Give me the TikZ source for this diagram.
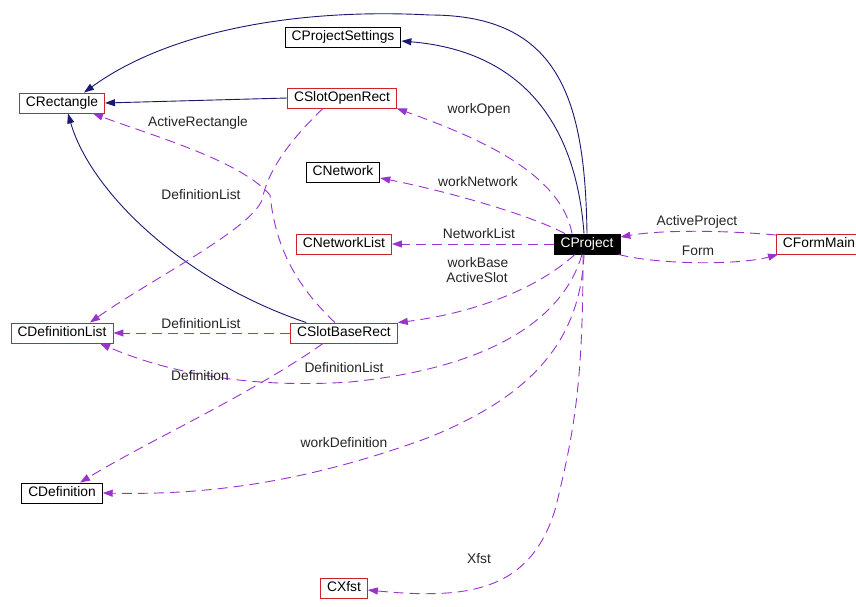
\documentclass[tikz,border=0pt]{standalone}
\usepackage{fontspec}
\setmainfont{Liberation Sans}
\usetikzlibrary{arrows.meta}
\definecolor{inhcol}{RGB}{25,25,112}
\definecolor{usecol}{RGB}{154,50,205}
\definecolor{boxred}{RGB}{205,35,45}
\begin{document}
\begin{tikzpicture}[x=1pt,y=-1pt,
  cls/.style={draw=black, line width=0.9pt, rectangle, minimum height=20pt,
    inner xsep=6.5pt, inner ysep=0pt, text height=10pt, text depth=3pt,
    font=\fontsize{13.8}{16}\selectfont},
  doc/.style={cls, draw=boxred},
  cur/.style={cls, fill=black, text=white},
  inherit/.style={draw=inhcol, line width=0.9pt, -{Triangle[length=10pt,width=7pt]}},
  uses/.style={draw=usecol, line width=0.9pt, dash pattern=on 10pt off 6pt,
    -{Triangle[length=10pt,width=7pt]}},
  lbl/.style={font=\fontsize{13.8}{16}\selectfont, text=black!85, inner sep=0pt}
]
% canvas
\fill[white] (0,0) rectangle (856,606);
\useasboundingbox (0,0) rectangle (856,606);

% classes
\node[cls] (cps)   at (343,37)  {CProjectSettings};
\node[doc] (crect) at (62,103)  {CRectangle};
\node[doc] (cso)   at (342,98)  {CSlotOpenRect};
\node[cls] (cnet)  at (343,172) {CNetwork};
\node[doc] (cnl)   at (344,244) {CNetworkList};
\node[cur] (cproj) at (587,244) {CProject};
\node[doc] (cfm)   at (819,244) {CFormMain};
\node[doc] (cdl)   at (62,333)  {CDefinitionList};
\node[doc] (csb)   at (344,333) {CSlotBaseRect};
\node[cls] (cdef)  at (62,493)  {CDefinition};
\node[doc] (cxf)   at (344,588) {CXfst};

% inheritance
\draw[inherit] (cproj.north) .. controls (585,100) and (560,15) .. (430,15)
  .. controls (300,8) and (170,30) .. ([xshift=22pt]crect.north);
\draw[inherit] ([xshift=-3pt]cproj.north) .. controls (575,110) and (510,50) .. ([yshift=-4pt]cps.east);
\draw[inherit] (cso.west) -- (crect.east);
\draw[inherit] ([xshift=16pt]csb.north west) .. controls (180,280) and (90,190) .. ([xshift=6pt]crect.south);

% usage relations
\draw[uses] ([xshift=-15pt]cproj.north) .. controls (560,170) and (470,135) .. (cso.south east);
\draw[uses] ([xshift=-22pt]cproj.north) .. controls (530,215) and (450,192) .. ([yshift=-6pt]cnet.east);
\draw[uses] (cproj.west) -- (cnl.east);
\draw[uses] ([xshift=-12pt]cproj.south) .. controls (530,295) and (460,315) .. (csb.north east);
\draw[uses] ([xshift=-5pt]cproj.south) .. controls (560,330) and (470,370) .. (350,382)
  .. controls (230,390) and (150,365) .. ([xshift=38pt]cdl.south);
\draw[uses] ([xshift=-3pt]cproj.south) .. controls (580,350) and (520,400) .. (430,437)
  .. controls (300,485) and (200,495) .. (cdef.east);
\draw[uses] ([xshift=-4pt]cproj.south) .. controls (583,380) and (575,430) .. (555,510)
  .. controls (530,590) and (470,600) .. ([yshift=-2pt]cxf.east);
\draw[uses] ([yshift=9pt]cfm.west) .. controls (720,230) and (660,230) .. ([yshift=7pt]cproj.east);
\draw[uses] ([xshift=-2pt]cproj.south east) .. controls (660,265) and (740,265) .. ([xshift=2pt]cfm.south west);
\draw[uses] ([xshift=-19pt]cso.south) .. controls (290,140) and (268,170) .. (262,200)
  .. controls (250,230) and (150,280) .. ([xshift=28pt]cdl.north);
\draw[uses] ([xshift=-9pt]csb.north) .. controls (290,280) and (275,240) .. (270,195)
  .. controls (240,160) and (150,135) .. ([xshift=31pt]crect.south);
\draw[uses] (csb.west) -- (cdl.east);
\draw[uses] ([xshift=-21pt]csb.south) .. controls (250,395) and (150,440) .. ([xshift=18pt]cdef.north);

% relation labels
\node[lbl] (l1)  at (479,110) {workOpen};
\node[lbl] (l2)  at (478,182) {workNetwork};
\node[lbl] (l3)  at (479,234) {NetworkList};
\node[lbl] (l4)  at (478,263) {workBase};
\node[lbl] (l5)  at (477,278) {ActiveSlot};
\node[lbl] (l6)  at (697,222) {ActiveProject};
\node[lbl] (l7)  at (698,251) {Form};
\node[lbl] (l8)  at (198,123) {ActiveRectangle};
\node[lbl] (l9)  at (201,195) {DefinitionList};
\node[lbl] (l10) at (201,324) {DefinitionList};
\node[lbl] (l11) at (200,376) {Definition};
\node[lbl] (l12) at (344,368) {DefinitionList};
\node[lbl] (l13) at (344,443) {workDefinition};
\node[lbl] (l14) at (479,559) {Xfst};
\end{tikzpicture}
\end{document}
